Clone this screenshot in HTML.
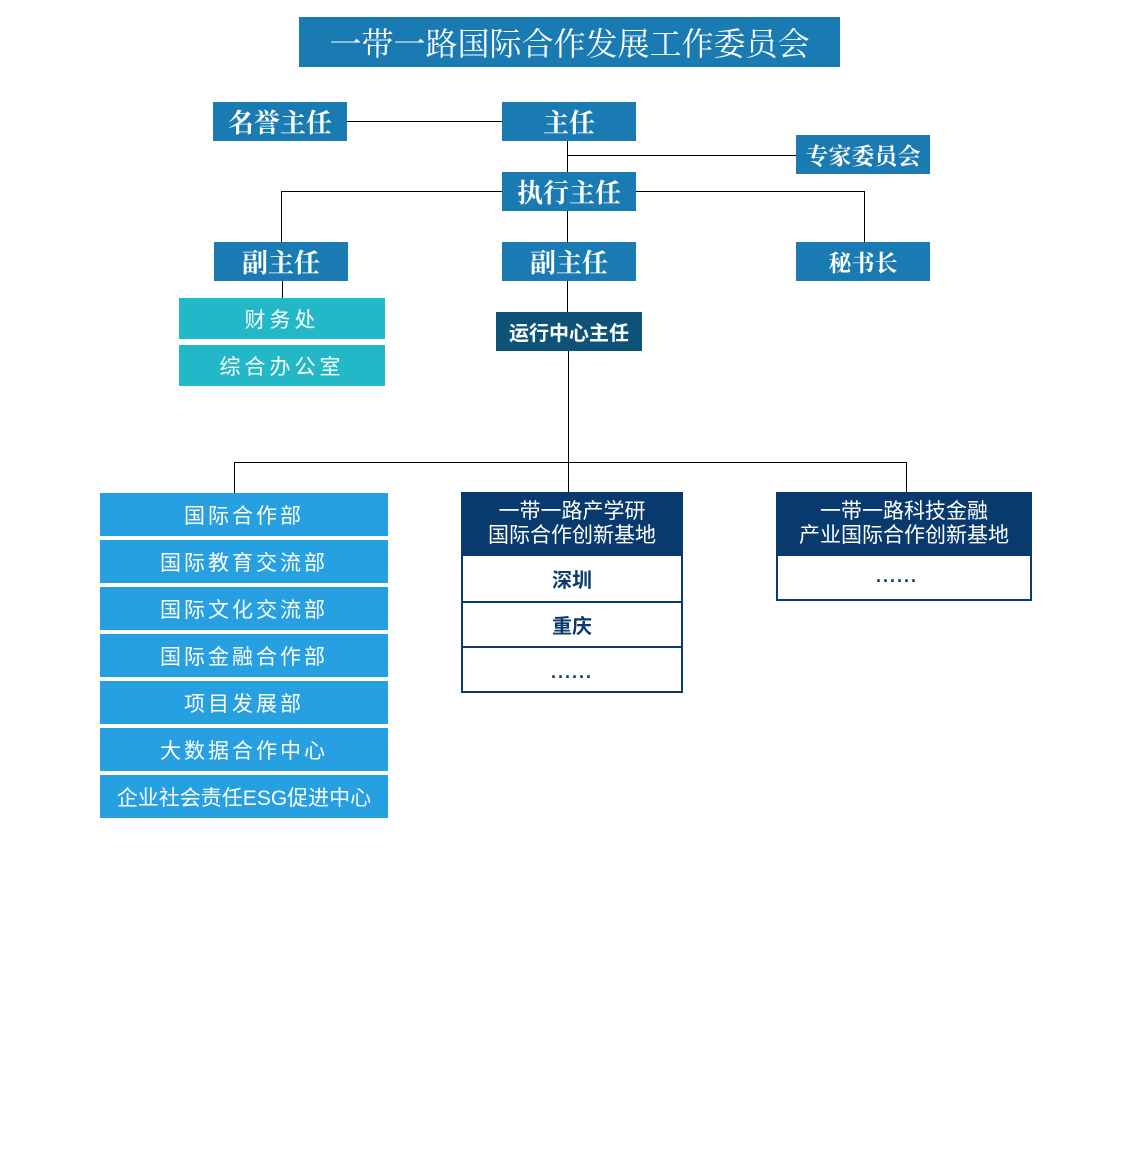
<!DOCTYPE html>
<html><head><meta charset="utf-8"><style>
body{margin:0;width:1138px;height:1150px;background:#fff;position:relative;overflow:hidden}
.b{position:absolute;display:flex;align-items:center;justify-content:center;color:#fff;box-sizing:border-box;white-space:nowrap}
.s{font-family:"Liberation Serif","Noto Serif CJK SC",serif;font-weight:bold;background:#1a7bb3}
.n{font-family:"Liberation Sans","Noto Sans CJK SC",sans-serif}
.l{position:absolute;background:#000}
.h{height:1px}.v{width:1px}
.bl{background:#27a0e2;left:100px;width:288px;height:43px;font-size:21px;letter-spacing:3px}
.tq{background:#22b8c8;left:179px;width:206px;height:41px;font-size:21px;letter-spacing:4px}
.row{position:absolute;left:0;right:0;display:flex;align-items:center;justify-content:center;color:#0a3b6e;font-weight:bold;font-size:20px;font-family:"Liberation Sans","Noto Sans CJK SC",sans-serif}
.hd{position:absolute;left:0;top:0;right:0;height:62px;background:#083a6e;color:#fff;font-size:21px;line-height:24px;text-align:center;padding-top:8px;box-sizing:border-box;font-family:"Liberation Sans","Noto Sans CJK SC",sans-serif;white-space:nowrap}
.dots{letter-spacing:2px;font-size:18px}
</style></head><body>
<div class="b s" style="left:299px;top:17px;width:541px;height:50px;font-size:32px;font-weight:normal">一带一路国际合作发展工作委员会</div>
<div class="b s" style="left:213px;top:102px;width:134px;height:39px;font-size:26px">名誉主任</div>
<div class="b s" style="left:502px;top:102px;width:134px;height:39px;font-size:26px">主任</div>
<div class="b s" style="left:796px;top:135px;width:134px;height:39px;font-size:23px">专家委员会</div>
<div class="b s" style="left:502px;top:172px;width:134px;height:39px;font-size:26px">执行主任</div>
<div class="b s" style="left:214px;top:242px;width:134px;height:39px;font-size:26px">副主任</div>
<div class="b s" style="left:502px;top:242px;width:134px;height:39px;font-size:26px">副主任</div>
<div class="b s" style="left:796px;top:242px;width:134px;height:39px;font-size:23px">秘书长</div>
<div class="b n tq" style="top:298px">财务处</div>
<div class="b n tq" style="top:345px">综合办公室</div>
<div class="b n" style="left:496px;top:312px;width:146px;height:39px;background:#0f5278;font-size:20px;font-weight:bold">运行中心主任</div>

<div class="l h" style="left:347px;top:121px;width:155px"></div>
<div class="l v" style="left:567px;top:141px;height:31px"></div>
<div class="l h" style="left:567px;top:155px;width:229px"></div>
<div class="l h" style="left:281px;top:191px;width:221px"></div>
<div class="l v" style="left:281px;top:191px;height:51px"></div>
<div class="l h" style="left:636px;top:191px;width:228px"></div>
<div class="l v" style="left:864px;top:191px;height:51px"></div>
<div class="l v" style="left:567px;top:211px;height:31px"></div>
<div class="l v" style="left:282px;top:281px;height:17px"></div>
<div class="l v" style="left:567px;top:281px;height:31px"></div>
<div class="l v" style="left:568px;top:351px;height:141px"></div>
<div class="l h" style="left:234px;top:462px;width:673px"></div>
<div class="l v" style="left:234px;top:462px;height:31px"></div>
<div class="l v" style="left:906px;top:462px;height:30px"></div>

<div class="b n bl" style="top:493px">国际合作部</div>
<div class="b n bl" style="top:540px">国际教育交流部</div>
<div class="b n bl" style="top:587px">国际文化交流部</div>
<div class="b n bl" style="top:634px">国际金融合作部</div>
<div class="b n bl" style="top:681px">项目发展部</div>
<div class="b n bl" style="top:728px">大数据合作中心</div>
<div class="b n bl" style="top:775px;letter-spacing:0">企业社会责任ESG促进中心</div>

<div style="position:absolute;left:461px;top:492px;width:222px;height:201px;border:2px solid #0a3b6e;box-sizing:border-box">
<div class="hd" style="left:-2px;right:-2px;top:-2px;height:64px">一带一路产学研<br>国际合作创新基地</div>
<div class="row" style="top:62px;height:45px;border-bottom:2px solid #0a3b6e">深圳</div>
<div class="row" style="top:108px;height:44px;border-bottom:2px solid #0a3b6e">重庆</div>
<div class="row dots" style="top:154px;height:45px;align-items:flex-end;padding-bottom:10px;box-sizing:border-box">......</div>
</div>
<div style="position:absolute;left:776px;top:492px;width:256px;height:109px;border:2px solid #0a3b6e;box-sizing:border-box">
<div class="hd" style="left:-2px;right:-2px;top:-2px;height:64px">一带一路科技金融<br>产业国际合作创新基地</div>
<div class="row dots" style="top:62px;height:40px;left:-14px">......</div>
</div>
</body></html>
